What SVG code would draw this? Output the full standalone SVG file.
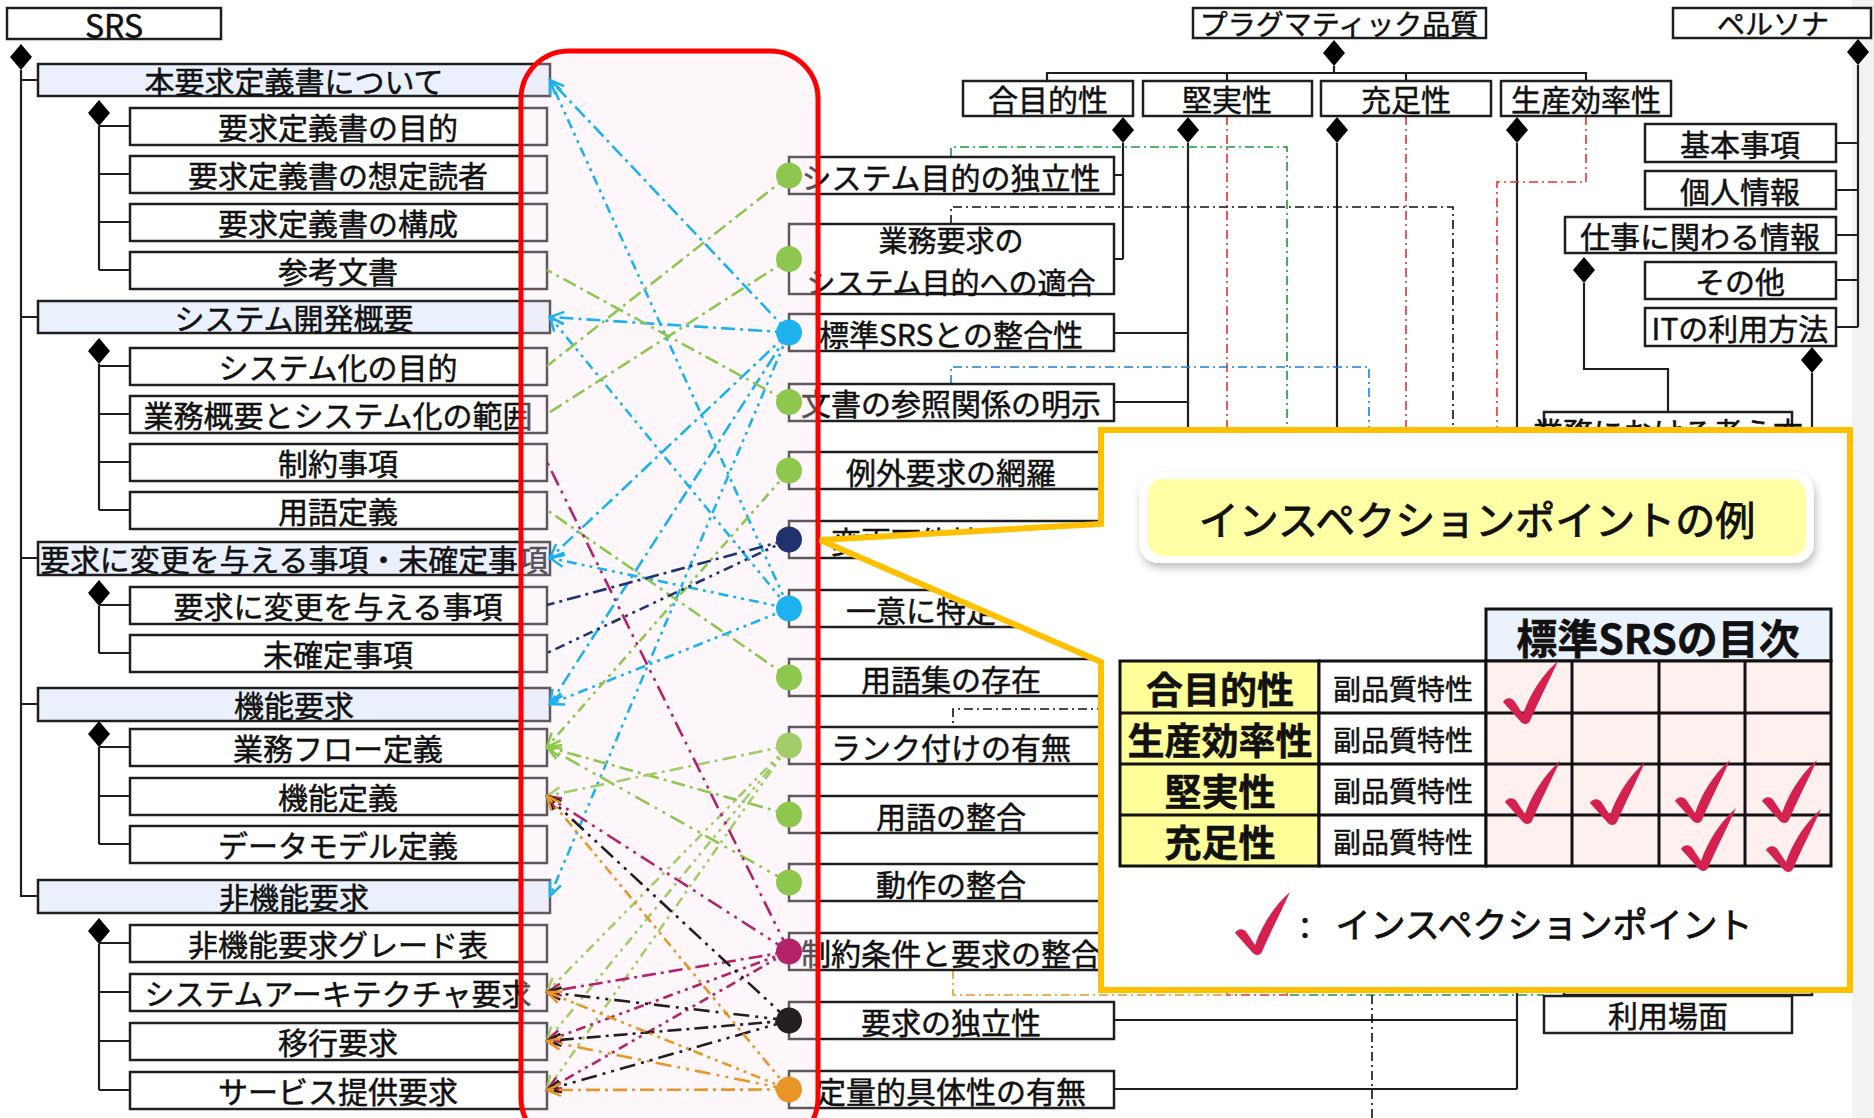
<svg xmlns="http://www.w3.org/2000/svg" width="1874" height="1118" viewBox="0 0 1874 1118">
<style>
text{font-family:"Noto Sans CJK JP","Noto Sans",sans-serif;fill:#111;stroke:#111;stroke-width:0.5;dominant-baseline:central;text-anchor:middle}
.t30{font-size:30px}
.t28{font-size:28px}
.box{fill:#fff;stroke:#1e1e1e;stroke-width:2.5}
.hdr{fill:#EAF1FC;stroke:#1e1e1e;stroke-width:2.5}
.tree{fill:none;stroke:#1e1e1e;stroke-width:2.2}
.dia{fill:#000}
.l{fill:none;stroke-width:2.6}
.p1{stroke-dasharray:14 5 3 5}
.p2{stroke-dasharray:10 5 3 5 3 5}
.p3{stroke-dasharray:16 6 3 6 3 6}
.cb{stroke:#1DB1EE}
.cg{stroke:#8DC74E}
.clg{stroke:#A2CD68}
.cn{stroke:#203370}
.cm{stroke:#B42369}
.ck{stroke:#231F20}
.co{stroke:#E89628}
.dd{fill:none;stroke-width:1.6;stroke-dasharray:9 4 2 4}
.cell{stroke:#111;stroke-width:3}
.lab{font-size:37px;font-weight:bold}
.sub{font-size:28px}
</style>
<defs>
<marker id="ab" viewBox="-16 -9 18 18" refX="0" refY="0" markerWidth="18" markerHeight="18" markerUnits="userSpaceOnUse" orient="auto"><path d="M-14,-6 L0,0 L-14,6" fill="none" stroke="#1DB1EE" stroke-width="2.5"/></marker>
<marker id="ag" viewBox="-16 -9 18 18" refX="0" refY="0" markerWidth="18" markerHeight="18" markerUnits="userSpaceOnUse" orient="auto"><path d="M-14,-6 L0,0 L-14,6" fill="none" stroke="#8DC74E" stroke-width="2.5"/></marker>
<marker id="alg" viewBox="-16 -9 18 18" refX="0" refY="0" markerWidth="18" markerHeight="18" markerUnits="userSpaceOnUse" orient="auto"><path d="M-14,-6 L0,0 L-14,6" fill="none" stroke="#A2CD68" stroke-width="2.5"/></marker>
<marker id="am" viewBox="-16 -9 18 18" refX="0" refY="0" markerWidth="18" markerHeight="18" markerUnits="userSpaceOnUse" orient="auto"><path d="M-14,-6 L0,0 L-14,6" fill="none" stroke="#B42369" stroke-width="2.5"/></marker>
<marker id="ak" viewBox="-16 -9 18 18" refX="0" refY="0" markerWidth="18" markerHeight="18" markerUnits="userSpaceOnUse" orient="auto"><path d="M-14,-6 L0,0 L-14,6" fill="none" stroke="#231F20" stroke-width="2.5"/></marker>
<marker id="ao" viewBox="-16 -9 18 18" refX="0" refY="0" markerWidth="18" markerHeight="18" markerUnits="userSpaceOnUse" orient="auto"><path d="M-14,-6 L0,0 L-14,6" fill="none" stroke="#E89628" stroke-width="2.5"/></marker>
<path id="dm" d="M0,-13 L11,0 L0,13 L-11,0 Z"/>
<path id="chk" d="M-23,-17 C-20,-22 -14,-22 -11,-17 L-3,-5 C4,-25 16,-44 32,-58 C24,-40 12,-17 4,2 C2,6 -3,6 -6,2 Z" fill="#D42150"/>
<filter id="sh" x="-5%" y="-20%" width="110%" height="150%"><feDropShadow dx="2" dy="5" stdDeviation="4" flood-color="#000" flood-opacity="0.25"/></filter>
</defs>
<rect width="1874" height="1118" fill="#fff"/>
<rect x="1852" y="0" width="22" height="1118" fill="#F2F2F2"/>

<!-- Left tree -->
<g id="tree-lines">
<use href="#dm" x="21" y="57" class="dia"/>
<path class="tree" d="M21,70 V896 H38 M21,80 H38 M21,317 H38 M21,558 H38 M21,704 H38"/>
<use href="#dm" x="99" y="113" class="dia"/>
<path class="tree" d="M99,126 V270 M99,126 H130 M99,174 H130 M99,222 H130 M99,270 H130"/>
<use href="#dm" x="99" y="351" class="dia"/>
<path class="tree" d="M99,364 V510 M99,366 H130 M99,414 H130 M99,462 H130 M99,510 H130"/>
<use href="#dm" x="99" y="593" class="dia"/>
<path class="tree" d="M99,606 V653 M99,605 H130 M99,653 H130"/>
<use href="#dm" x="99" y="734" class="dia"/>
<path class="tree" d="M99,747 V844 M99,747 H130 M99,796 H130 M99,844 H130"/>
<use href="#dm" x="99" y="931" class="dia"/>
<path class="tree" d="M99,944 V1090 M99,943 H130 M99,992 H130 M99,1041 H130 M99,1090 H130"/>
</g>
<g id="n-srs"><rect class="box" x="7" y="8" width="214" height="31"/><text x="114" y="24" style="font-size:32px">SRS</text></g>
<g id="n-h1"><rect class="hdr" x="38" y="64" width="512" height="32"/><text class="t30" x="294" y="80">本要求定義書について</text></g>
<g id="n-c1"><rect class="box" x="130" y="108" width="417" height="37"/><text class="t30" x="338" y="126">要求定義書の目的</text></g>
<g id="n-c2"><rect class="box" x="130" y="156" width="417" height="37"/><text class="t30" x="338" y="174">要求定義書の想定読者</text></g>
<g id="n-c3"><rect class="box" x="130" y="204" width="417" height="37"/><text class="t30" x="338" y="222">要求定義書の構成</text></g>
<g id="n-c4"><rect class="box" x="130" y="252" width="417" height="37"/><text class="t30" x="338" y="270">参考文書</text></g>
<g id="n-h2"><rect class="hdr" x="38" y="301" width="512" height="32"/><text class="t30" x="294" y="317">システム開発概要</text></g>
<g id="n-c5"><rect class="box" x="130" y="348" width="417" height="37"/><text class="t30" x="338" y="366">システム化の目的</text></g>
<g id="n-c6"><rect class="box" x="130" y="396" width="417" height="37"/><text class="t30" x="338" y="414">業務概要とシステム化の範囲</text></g>
<g id="n-c7"><rect class="box" x="130" y="444" width="417" height="37"/><text class="t30" x="338" y="462">制約事項</text></g>
<g id="n-c8"><rect class="box" x="130" y="492" width="417" height="37"/><text class="t30" x="338" y="510">用語定義</text></g>
<g id="n-h3"><rect class="hdr" x="38" y="542" width="512" height="33"/><text class="t30" x="294" y="558" textLength="508" lengthAdjust="spacingAndGlyphs">要求に変更を与える事項・未確定事項</text></g>
<g id="n-c9"><rect class="box" x="130" y="587" width="417" height="37"/><text class="t30" x="338" y="605">要求に変更を与える事項</text></g>
<g id="n-c10"><rect class="box" x="130" y="635" width="417" height="37"/><text class="t30" x="338" y="653">未確定事項</text></g>
<g id="n-h4"><rect class="hdr" x="38" y="688" width="512" height="33"/><text class="t30" x="294" y="704">機能要求</text></g>
<g id="n-c11"><rect class="box" x="130" y="729" width="417" height="37"/><text class="t30" x="338" y="747">業務フロー定義</text></g>
<g id="n-c12"><rect class="box" x="130" y="778" width="417" height="37"/><text class="t30" x="338" y="796">機能定義</text></g>
<g id="n-c13"><rect class="box" x="130" y="826" width="417" height="37"/><text class="t30" x="338" y="844">データモデル定義</text></g>
<g id="n-h5"><rect class="hdr" x="38" y="880" width="512" height="33"/><text class="t30" x="294" y="896">非機能要求</text></g>
<g id="n-c14"><rect class="box" x="130" y="925" width="417" height="37"/><text class="t30" x="338" y="943">非機能要求グレード表</text></g>
<g id="n-c15"><rect class="box" x="130" y="974" width="417" height="37"/><text class="t30" x="338" y="992">システムアーキテクチャ要求</text></g>
<g id="n-c16"><rect class="box" x="130" y="1023" width="417" height="37"/><text class="t30" x="338" y="1041">移行要求</text></g>
<g id="n-c17"><rect class="box" x="130" y="1072" width="417" height="37"/><text class="t30" x="338" y="1090">サービス提供要求</text></g>

<!-- Right structure lines -->
<g id="right-lines">
<path class="tree" d="M1334,66 V73 M1047,81 V73 H1586 V81 M1227,73 V81 M1406,73 V81"/>
<use href="#dm" x="1334" y="53" class="dia"/>
<use href="#dm" x="1123" y="130" class="dia"/>
<use href="#dm" x="1188" y="130" class="dia"/>
<use href="#dm" x="1337" y="130" class="dia"/>
<use href="#dm" x="1517" y="130" class="dia"/>
<path class="tree" d="M1123,143 V259 M1114,175 H1123 M1114,259 H1123"/>
<path class="tree" d="M1188,143 V960 M1114,333 H1188 M1114,402 H1188 M1114,471 H1188"/>
<path class="tree" d="M1337,143 V900"/>
<path class="tree" d="M1517,143 V1089 M1114,1020 H1517 M1114,1089 H1517"/>
<path class="dd" stroke="#E53030" d="M1227,116 V995 H1290"/>
<path class="dd" stroke="#E53030" d="M1406,116 V940"/>
<path class="dd" stroke="#E53030" d="M1586,116 V182 H1497 V940"/>
<path class="dd" stroke="#E8962A" d="M953,970 V995 H1233"/>
<path class="dd" stroke="#1A9A3A" d="M951,157 V147 H1287 V995 H1544"/>
<path class="dd" stroke="#111" d="M951,224 V207 H1453 V709 H953 V727"/>
<path class="dd" stroke="#1E7FD0" d="M951,384 V367 H1369 V900"/>
<path class="dd" stroke="#111" d="M1372,900 V1118"/>
<use href="#dm" x="1858" y="52" class="dia"/>
<path class="tree" d="M1858,65 V327 M1836,143 H1858 M1836,190 H1858 M1836,235 H1858 M1836,280 H1858 M1836,327 H1858"/>
<use href="#dm" x="1584" y="270" class="dia"/>
<path class="tree" d="M1584,283 V369 H1668 V412"/>
<use href="#dm" x="1812" y="360" class="dia"/>
<path class="tree" d="M1812,373 V440"/>
</g>

<g id="n-prag"><rect class="box" x="1193" y="8" width="293" height="30"/><text class="t28" x="1339" y="23">プラグマティック品質</text></g>
<g id="n-q1"><rect class="box" x="963" y="81" width="170" height="35"/><text class="t30" x="1048" y="98">合目的性</text></g>
<g id="n-q2"><rect class="box" x="1143" y="81" width="169" height="35"/><text class="t30" x="1227" y="98">堅実性</text></g>
<g id="n-q3"><rect class="box" x="1321" y="81" width="170" height="35"/><text class="t30" x="1406" y="98">充足性</text></g>
<g id="n-q4"><rect class="box" x="1501" y="81" width="170" height="35"/><text class="t30" x="1586" y="98">生産効率性</text></g>
<g id="n-persona"><rect class="box" x="1673" y="8" width="198" height="30"/><text class="t28" x="1773" y="23">ペルソナ</text></g>
<g id="n-p1"><rect class="box" x="1645" y="124" width="191" height="38"/><text class="t30" x="1740" y="143">基本事項</text></g>
<g id="n-p2"><rect class="box" x="1645" y="171" width="191" height="38"/><text class="t30" x="1740" y="190">個人情報</text></g>
<g id="n-p3"><rect class="box" x="1565" y="217" width="271" height="36"/><text class="t30" x="1700" y="235">仕事に関わる情報</text></g>
<g id="n-p4"><rect class="box" x="1645" y="262" width="191" height="37"/><text class="t30" x="1740" y="280">その他</text></g>
<g id="n-p5"><rect class="box" x="1645" y="308" width="191" height="38"/><text class="t30" x="1740" y="327">ITの利用方法</text></g>
<g id="n-work"><rect class="box" x="1544" y="412" width="248" height="38"/><text class="t30" x="1668" y="431">業務における考え方</text></g>
<g id="n-back"><rect class="box" x="1564" y="880" width="248" height="115"/></g>
<g id="n-use"><rect class="box" x="1544" y="996" width="248" height="37"/><text class="t30" x="1668" y="1014">利用場面</text></g>

<!-- Middle boxes -->
<g id="n-m1"><rect class="box" x="789" y="157" width="325" height="37"/><text class="t30" x="951" y="175.5">システム目的の独立性</text></g>
<g id="n-m2"><rect class="box" x="789" y="224" width="325" height="70"/><text x="951" y="239" style="font-size:29px">業務要求の</text><text x="951" y="281" style="font-size:29px">システム目的への適合</text></g>
<g id="n-m3"><rect class="box" x="789" y="314" width="325" height="37"/><text class="t30" x="951" y="332.5">標準SRSとの整合性</text></g>
<g id="n-m4"><rect class="box" x="789" y="384" width="325" height="37"/><text class="t30" x="951" y="402">文書の参照関係の明示</text></g>
<g id="n-m5"><rect class="box" x="789" y="452" width="325" height="37"/><text class="t30" x="951" y="470.5">例外要求の網羅</text></g>
<g id="n-m6"><rect class="box" x="789" y="521" width="325" height="37"/><text class="t30" x="951" y="539.5">変更可能性の有無</text></g>
<g id="n-m7"><rect class="box" x="789" y="590" width="325" height="37"/><text class="t30" x="951" y="608.5">一意に特定可能</text></g>
<g id="n-m8"><rect class="box" x="789" y="659" width="325" height="37"/><text class="t30" x="951" y="677.5">用語集の存在</text></g>
<g id="n-m9"><rect class="box" x="789" y="727" width="325" height="37"/><text class="t30" x="951" y="745.5">ランク付けの有無</text></g>
<g id="n-m10"><rect class="box" x="789" y="796" width="325" height="37"/><text class="t30" x="951" y="814.5">用語の整合</text></g>
<g id="n-m11"><rect class="box" x="789" y="864" width="325" height="37"/><text class="t30" x="951" y="882.5">動作の整合</text></g>
<g id="n-m12"><rect class="box" x="789" y="933" width="325" height="37"/><text class="t30" x="951" y="951.5">制約条件と要求の整合</text></g>
<g id="n-m13"><rect class="box" x="789" y="1002" width="325" height="37"/><text class="t30" x="951" y="1020.5">要求の独立性</text></g>
<g id="n-m14"><rect class="box" x="789" y="1071" width="325" height="37"/><text class="t30" x="951" y="1089.5">定量的具体性の有無</text></g>

<!-- Red frame -->
<g id="frame"><rect x="521" y="51" width="297" height="1095" rx="48" fill="#FAE3F4" fill-opacity="0.3" stroke="#FF0000" stroke-width="5"/></g>

<!-- Connectors -->
<g id="connectors">
<path class="l cb p1" d="M789,332.5 L550,80" marker-end="url(#ab)"/>
<path class="l cb p2" d="M789,608.5 L550,80" marker-end="url(#ab)"/>
<path class="l cb p1" d="M789,332.5 L550,317" marker-end="url(#ab)"/>
<path class="l cb p2" d="M789,608.5 L550,317" marker-end="url(#ab)"/>
<path class="l cb p1" d="M789,332.5 L550,558" marker-end="url(#ab)"/>
<path class="l cb p2" d="M789,608.5 L550,558" marker-end="url(#ab)"/>
<path class="l cb p1" d="M789,332.5 L550,704" marker-end="url(#ab)"/>
<path class="l cb p2" d="M789,608.5 L550,704" marker-end="url(#ab)"/>
<path class="l cb p2" d="M789,332.5 L550,896" marker-end="url(#ab)"/>
<path class="l cg p1" d="M789,175.5 L547,366"/>
<path class="l cg p1" d="M789,259 L547,414"/>
<path class="l cg p1" d="M789,402 L547,270"/>
<path class="l cg p2" d="M789,470.5 L547,747" marker-end="url(#ag)"/>
<path class="l cg p1" d="M789,677.5 L547,510"/>
<path class="l cg p1" d="M789,814.5 L547,747" marker-end="url(#ag)"/>
<path class="l cg p3" d="M789,882.5 L547,747" marker-end="url(#ag)"/>
<path class="l clg p1" d="M789,745.5 L547,796" marker-end="url(#alg)"/>
<path class="l clg p2" d="M789,745.5 L547,992" marker-end="url(#alg)"/>
<path class="l clg p2" d="M789,745.5 L547,1041" marker-end="url(#alg)"/>
<path class="l clg p2" d="M789,745.5 L547,1090" marker-end="url(#alg)"/>
<path class="l cn p1" d="M789,539.5 L547,605"/>
<path class="l cn p2" d="M789,539.5 L547,653"/>
<path class="l cm p3" d="M789,951.5 L547,462"/>
<path class="l cm p3" d="M789,951.5 L547,796" marker-end="url(#am)"/>
<path class="l cm p1" d="M789,951.5 L547,992" marker-end="url(#am)"/>
<path class="l cm p2" d="M789,951.5 L547,1041" marker-end="url(#am)"/>
<path class="l cm p2" d="M789,951.5 L547,1090" marker-end="url(#am)"/>
<path class="l ck p3" d="M789,1020.5 L547,796" marker-end="url(#ak)"/>
<path class="l ck p3" d="M789,1020.5 L547,992" marker-end="url(#ak)"/>
<path class="l ck p1" d="M789,1020.5 L547,1041" marker-end="url(#ak)"/>
<path class="l ck p3" d="M789,1020.5 L547,1090" marker-end="url(#ak)"/>
<path class="l co p2" d="M789,1089.5 L547,796" marker-end="url(#ao)"/>
<path class="l co p2" d="M789,1089.5 L547,992" marker-end="url(#ao)"/>
<path class="l co p3" d="M789,1089.5 L547,1041" marker-end="url(#ao)"/>
<path class="l co p1" d="M789,1089.5 L547,1090" marker-end="url(#ao)"/>
</g>

<!-- Dots -->
<g id="dots">
<circle cx="789" cy="175.5" r="13" fill="#8DC74E"/>
<circle cx="789" cy="259" r="13" fill="#8DC74E"/>
<circle cx="789" cy="332.5" r="13" fill="#1DB1EE"/>
<circle cx="789" cy="402" r="13" fill="#8DC74E"/>
<circle cx="789" cy="470.5" r="13" fill="#8DC74E"/>
<circle cx="789" cy="539.5" r="13" fill="#203370"/>
<circle cx="789" cy="608.5" r="13" fill="#1DB1EE"/>
<circle cx="789" cy="677.5" r="13" fill="#8DC74E"/>
<circle cx="789" cy="745.5" r="13" fill="#A2CD68"/>
<circle cx="789" cy="814.5" r="13" fill="#8DC74E"/>
<circle cx="789" cy="882.5" r="13" fill="#8DC74E"/>
<circle cx="789" cy="951.5" r="13" fill="#B42369"/>
<circle cx="789" cy="1020.5" r="13" fill="#231F20"/>
<circle cx="789" cy="1089.5" r="13" fill="#E89628"/>
</g>

<!-- Callout -->
<g id="callout">
<polygon points="1101,430 1850,430 1850,990 1101,990 1101,662 820,540 1101,524" fill="#fff" stroke="#FFC000" stroke-width="6" stroke-linejoin="miter"/>
<rect x="1139" y="472" width="675" height="91" rx="20" fill="#fff" filter="url(#sh)"/>
<rect x="1148" y="479" width="658" height="77" rx="15" fill="#FFFFA6"/>
<text x="1477" y="518" style="font-size:40px;stroke-width:0.9">インスペクションポイントの例</text>
<rect class="cell" x="1486" y="609" width="345" height="52" fill="#EAF2FC"/>
<text x="1658" y="636" style="font-size:41px;font-weight:bold">標準SRSの目次</text>
<g id="table">
<rect class="cell" x="1120" y="661" width="199" height="205" fill="#FFFF99"/>
<rect class="cell" x="1319" y="661" width="167" height="205" fill="#fff"/>
<rect class="cell" x="1486" y="661" width="345" height="205" fill="#FFF0F0"/>
<path class="cell" fill="none" d="M1120,713 H1831 M1120,764 H1831 M1120,815 H1831 M1572,661 V866 M1659,661 V866 M1745,661 V866"/>
<text class="lab" x="1220" y="688">合目的性</text>
<text class="lab" x="1220" y="739">生産効率性</text>
<text class="lab" x="1220" y="790">堅実性</text>
<text class="lab" x="1220" y="841">充足性</text>
<text class="sub" x="1403" y="688">副品質特性</text>
<text class="sub" x="1403" y="739">副品質特性</text>
<text class="sub" x="1403" y="790">副品質特性</text>
<text class="sub" x="1403" y="841">副品質特性</text>
<use href="#chk" x="1526" y="719"/>
<use href="#chk" x="1528" y="819"/>
<use href="#chk" x="1613" y="820"/>
<use href="#chk" x="1698" y="818"/>
<use href="#chk" x="1785" y="818"/>
<use href="#chk" x="1704" y="866"/>
<use href="#chk" x="1789" y="867"/>
</g>
<use href="#chk" x="1258" y="950"/>
<text x="1305" y="922" style="font-size:36px">:</text>
<text x="1544" y="922" style="font-size:35px;stroke-width:0.8">インスペクションポイント</text>
</g>
</svg>
